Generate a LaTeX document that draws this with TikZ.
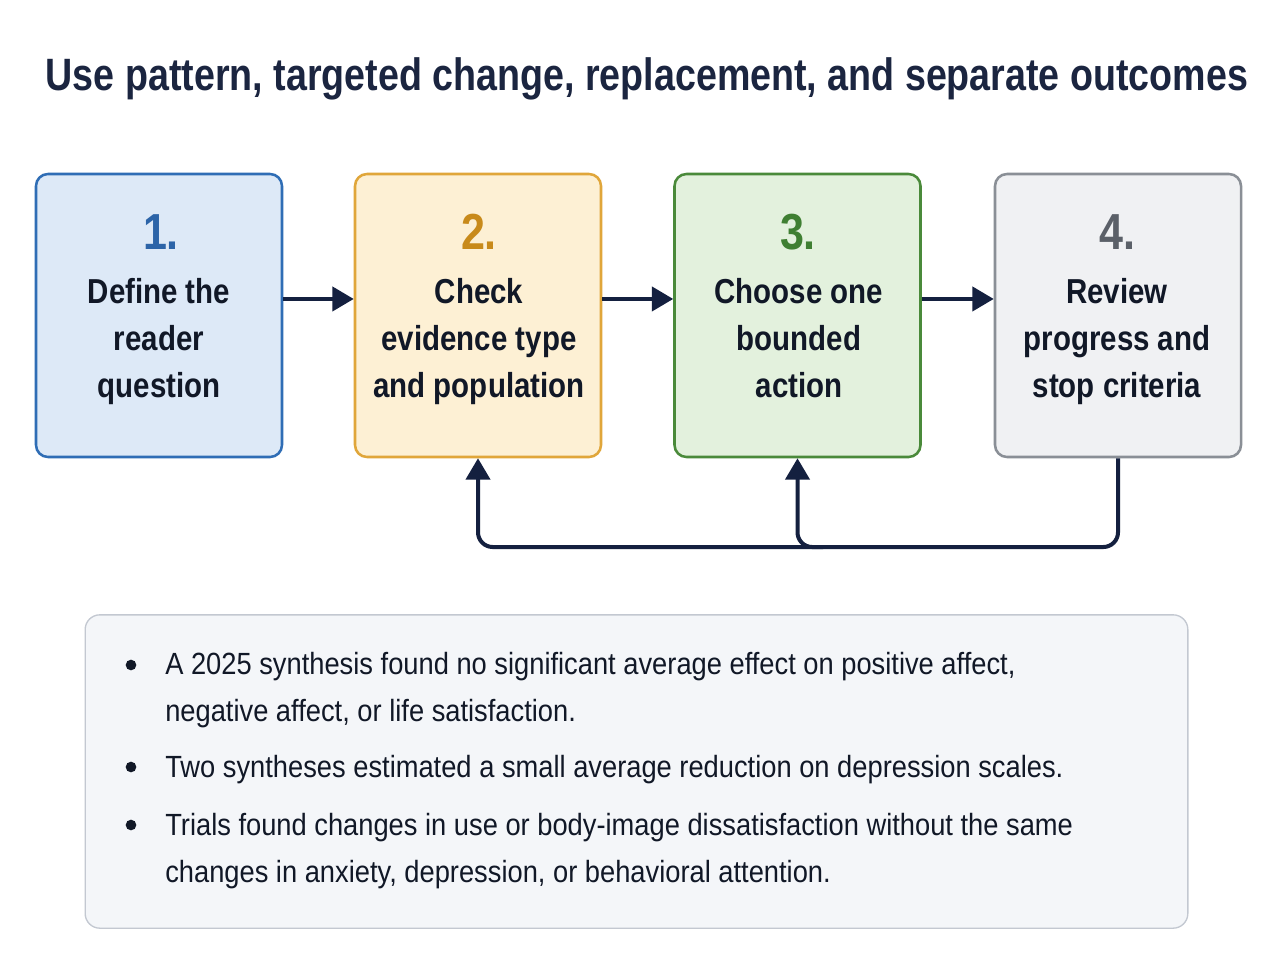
\documentclass[tikz,border=0pt]{standalone}
\usepackage{fontspec}
\setmainfont{Liberation Sans}
\newfontfamily\titlefont{Liberation Sans}[FakeStretch=0.83]
\newfontfamily\boxfont{Liberation Sans}[FakeStretch=0.85]
\newfontfamily\bodyfont{Liberation Sans}[FakeStretch=0.89]
\usetikzlibrary{arrows.meta}
\definecolor{navy}{HTML}{14203F}
\definecolor{titlec}{HTML}{1B2540}
\definecolor{txt}{HTML}{111827}
\definecolor{bfill}{HTML}{DDE9F7}\definecolor{bdraw}{HTML}{2F6DB5}\definecolor{bnum}{HTML}{2C64A8}
\definecolor{yfill}{HTML}{FDF0D4}\definecolor{ydraw}{HTML}{E0A63A}\definecolor{ynum}{HTML}{C88A1A}
\definecolor{gfill}{HTML}{E3F1DD}\definecolor{gdraw}{HTML}{4A8A3A}\definecolor{gnum}{HTML}{3F7F32}
\definecolor{kfill}{HTML}{F0F1F3}\definecolor{kdraw}{HTML}{8A8F96}\definecolor{knum}{HTML}{5B6068}
\definecolor{pfill}{HTML}{F4F6F9}\definecolor{pdraw}{HTML}{C3C8D1}
\tikzset{
  stepbox/.style={draw, rounded corners=9pt, line width=1.9pt, minimum width=184.5pt, minimum height=212.25pt, inner sep=0pt},
  numtext/.style={anchor=base, inner sep=0pt, font=\boxfont\bfseries\fontsize{38}{44}\selectfont},
  labtext/.style={anchor=base, inner sep=0pt, align=center, text=txt, font=\boxfont\bfseries\fontsize{26}{35}\selectfont},
  arr/.style={draw=navy, line width=3pt, -{Triangle[length=16pt,width=18pt]}},
  fb/.style={draw=navy, line width=3pt, rounded corners=11pt},
  bullet/.style={circle, fill=txt, minimum size=8pt, inner sep=0pt},
  bodytext/.style={anchor=base west, inner sep=0pt, align=left, text=txt, font=\bodyfont\fontsize{23}{35}\selectfont},
}
\begin{document}
\begin{tikzpicture}[x=0.75pt,y=-0.75pt]
\useasboundingbox[fill=white] (0,0) rectangle (1280,960);
\node[anchor=base, inner sep=0pt, text=titlec, font=\titlefont\bfseries\fontsize{34}{40}\selectfont] (title) at (647,90) {Use pattern, targeted change, replacement, and separate outcomes};

\node[stepbox, fill=bfill, draw=bdraw] (b1) at (159,315.5) {};
\node[stepbox, fill=yfill, draw=ydraw] (b2) at (478,315.5) {};
\node[stepbox, fill=gfill, draw=gdraw] (b3) at (797.5,315.5) {};
\node[stepbox, fill=kfill, draw=kdraw] (b4) at (1118,315.5) {};

\node[numtext, text=bnum] (n1) at (161,249) {1.};
\node[numtext, text=ynum] (n2) at (479,249) {2.};
\node[numtext, text=gnum] (n3) at (798,249) {3.};
\node[numtext, text=knum] (n4) at (1117,249) {4.};

\node[labtext] (l1) at (159,397) {Define the\\reader\\question};
\node[labtext] (l2) at (479,397) {Check\\evidence type\\and population};
\node[labtext] (l3) at (799,397) {Choose one\\bounded\\action};
\node[labtext] (l4) at (1117,397) {Review\\progress and\\stop criteria};

\draw[arr] ([yshift=12.4pt]b1.east) -- ([yshift=12.4pt]b2.west);
\draw[arr] ([yshift=12.4pt]b2.east) -- ([yshift=12.4pt]b3.west);
\draw[arr] ([yshift=12.4pt]b3.east) -- ([yshift=12.4pt]b4.west);

\coordinate (c1) at (1118,547);
\coordinate (c2) at (478,547);
\coordinate (j) at (823,547);
\draw[fb, -{Triangle[length=16pt,width=18pt]}] (b4.south) -- (c1) -- (c2) -- (b2.south);
\draw[fb, -{Triangle[length=16pt,width=18pt]}] (j) -| (b3.south);

\node[draw=pdraw, fill=pfill, line width=1pt, rounded corners=11pt, minimum width=827pt, minimum height=235pt, inner sep=0pt] (panel) at (636.5,771.5) {};

\node[bullet] (d1) at (131,665) {};
\node[bullet] (d2) at (131,767) {};
\node[bullet] (d3) at (131,825) {};
\node[bodytext] (t1) at (165,721) {A 2025 synthesis found no significant average effect on positive affect,\\negative affect, or life satisfaction.};
\node[bodytext] (t2) at (165,777) {Two syntheses estimated a small average reduction on depression scales.};
\node[bodytext] (t3) at (165,882) {Trials found changes in use or body-image dissatisfaction without the same\\changes in anxiety, depression, or behavioral attention.};
\end{tikzpicture}
\end{document}
